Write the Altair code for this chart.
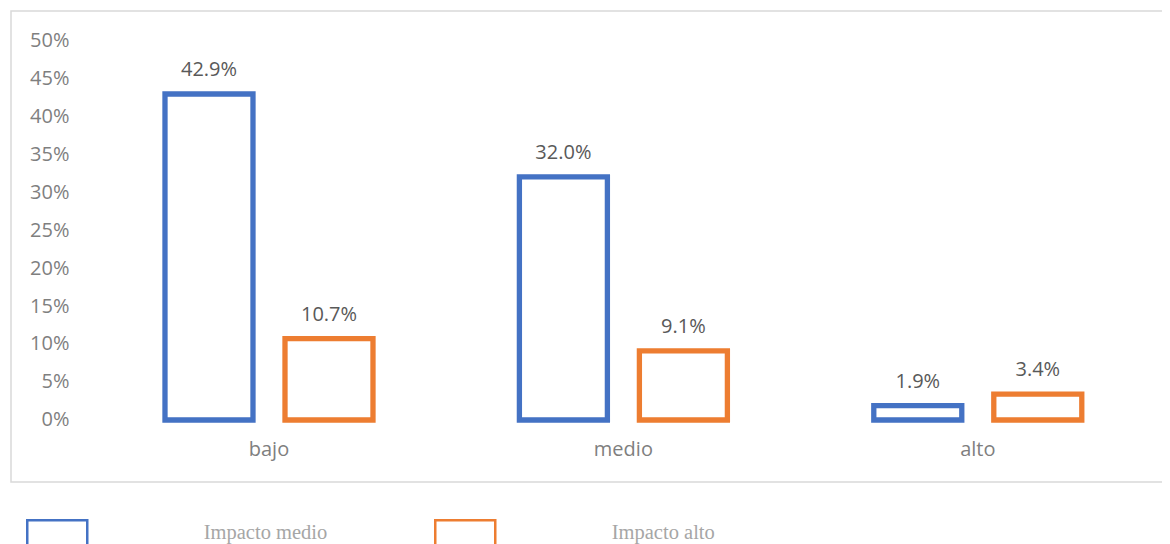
import altair as alt
import pandas as pd

categorias = ["bajo", "medio", "alto"]
series = ["Impacto medio", "Impacto alto"]
impacto_medio = [0.429, 0.320, 0.019]
impacto_alto = [0.107, 0.091, 0.034]
colores = ["#4472C4", "#ED7D31"]
y_ticks = [0, 0.05, 0.10, 0.15, 0.20, 0.25, 0.30, 0.35, 0.40, 0.45, 0.50]

rows = []
for i, c in enumerate(categorias):
    rows.append({"categoria": c, "serie": series[0], "valor": impacto_medio[i]})
    rows.append({"categoria": c, "serie": series[1], "valor": impacto_alto[i]})
df = pd.DataFrame(rows)

AXIS_FONT = "Open Sans"
AXIS_COLOR = "#7F7F7F"

base = alt.Chart(df).encode(
    x=alt.X(
        "categoria:N",
        sort=categorias,
        scale=alt.Scale(paddingInner=0.4131, paddingOuter=0.3417, align=0.6358),
        axis=alt.Axis(
            title=None, orient="bottom", offset=-27, domain=False, ticks=False,
            tickSize=0, labelPadding=0, labelBaseline="alphabetic", labelAngle=0,
            labelFont=AXIS_FONT, labelFontSize=20, labelColor=AXIS_COLOR,
        ),
    ),
    xOffset=alt.XOffset("serie:N", sort=series,
                        scale=alt.Scale(paddingInner=0.2667, paddingOuter=0)),
    y=alt.Y(
        "valor:Q",
        scale=alt.Scale(domain=[-0.0816, 0.5382], nice=False, zero=False),
        axis=alt.Axis(
            title=None, values=y_ticks, format=".0%", offset=-58, grid=False,
            domain=False, ticks=False, tickSize=0, labelPadding=0,
            labelFont=AXIS_FONT, labelFontSize=20, labelColor=AXIS_COLOR,
        ),
    ),
)

bars = base.mark_bar(fill="white", strokeWidth=5.3).encode(
    y2=alt.datum(0),
    stroke=alt.Stroke(
        "serie:N",
        sort=series,
        scale=alt.Scale(domain=series, range=colores),
        legend=alt.Legend(
            title=None, orient="none", legendX=14.75, legendY=489.75,
            direction="horizontal",
            symbolType="M-1,-0.4167H1V0.4167H-1Z", symbolSize=3600,
            symbolStrokeWidth=2.5, symbolFillColor="white",
            labelFont="Liberation Serif", labelFontSize=20.5, labelColor="#A6A6A6",
            labelOffset=115, columnPadding=102, padding=0,
        ),
    ),
)

texts = base.mark_text(
    baseline="alphabetic", dy=-18, font=AXIS_FONT, fontSize=20, color="#595959"
).encode(text=alt.Text("valor:Q", format=".1%"))

chart = (
    alt.layer(bars, texts)
    .properties(
        width=1159,
        height=471,
        padding={"left": 3, "top": 3, "right": -8, "bottom": 62},
        autosize=alt.AutoSizeParams(type="none"),
        background="white",
    )
    .configure_view(stroke="#D9D9D9", strokeWidth=1.5)
)

chart.save("out.html", embed_options={"renderer": "svg", "actions": False})
